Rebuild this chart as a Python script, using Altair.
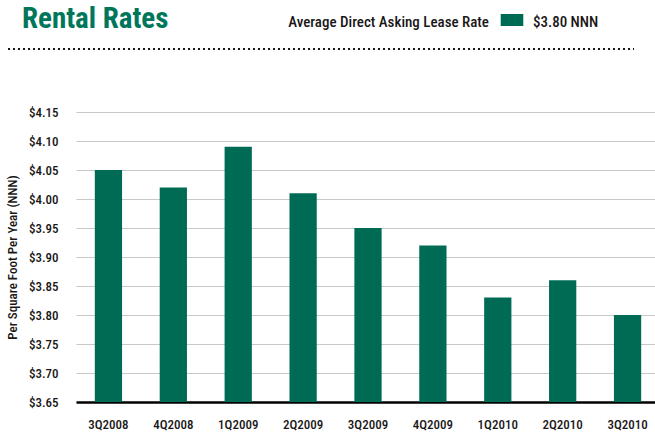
import altair as alt
import pandas as pd

# Quarterly average direct asking lease rate ($ per sq ft per year, NNN)
quarters = ["3Q2008", "4Q2008", "1Q2009", "2Q2009", "3Q2009",
            "4Q2009", "1Q2010", "2Q2010", "3Q2010"]
rates = [4.05, 4.02, 4.09, 4.01, 3.95, 3.92, 3.83, 3.86, 3.80]
y_ticks = [3.65, 3.70, 3.75, 3.80, 3.85, 3.90, 3.95, 4.00, 4.05, 4.10, 4.15]
y_base = y_ticks[0]

title_text = "Rental Rates"
legend_label = "Average Direct Asking Lease Rate"
legend_value = f"${rates[-1]:.2f} NNN"

GREEN = "#006B54"
TITLE_GREEN = "#00765A"
INK = "#1A1718"
FONT = "Liberation Sans Narrow, Roboto Condensed, DejaVu Sans Condensed, Liberation Sans, sans-serif"
TEXT_WEIGHT = 500

bars_df = pd.DataFrame({"quarter": quarters, "rate": rates})

bars = alt.Chart(bars_df).mark_bar(color=GREEN).encode(
    x=alt.X(
        "quarter:N",
        sort=quarters,
        scale=alt.Scale(range=[0, 584], paddingInner=0.58, paddingOuter=0.29),
        axis=alt.Axis(
            title=None, labelAngle=0, ticks=False, domainColor="#000000",
            domainWidth=2.5, labelPadding=16, labelFont=FONT, labelFontSize=13,
            labelFontWeight=TEXT_WEIGHT, labelColor=INK, grid=False,
            labelOverlap=False,
        ),
    ),
    y=alt.Y(
        "rate:Q",
        scale=alt.Scale(domain=[3.65, 4.15], zero=False, nice=False),
        axis=alt.Axis(
            values=y_ticks, format="$.2f", ticks=False, domain=False,
            labelPadding=18, labelFont=FONT, labelFontSize=13,
            labelFontWeight=TEXT_WEIGHT, labelColor=INK,
            gridColor="#C8C8C8", gridWidth=1,
            title="Per Square Foot Per Year (NNN)", titleFont=FONT,
            titleFontSize=13, titleFontWeight=TEXT_WEIGHT, titleColor=INK,
            titleAngle=-90, titleX=-64, titleY=145, titleAlign="center",
            titleBaseline="middle",
        ),
    ),
    y2=alt.datum(y_base),
)

one = pd.DataFrame({"k": [0]})

heading = alt.Chart(pd.DataFrame({"t": [title_text]})).mark_text(
    font=FONT, fontSize=29, fontWeight="bold", color=TITLE_GREEN,
    align="left", baseline="alphabetic",
).encode(text="t:N", x=alt.value(-54), y=alt.value(-84))

legend_text = alt.Chart(pd.DataFrame({"t": [legend_label]})).mark_text(
    font=FONT, fontSize=15, fontWeight=TEXT_WEIGHT, color=INK,
    align="right", baseline="alphabetic",
).encode(text="t:N", x=alt.value(413), y=alt.value(-85))

legend_swatch = alt.Chart(one).mark_rect(color=GREEN).encode(
    x=alt.value(424.7), x2=alt.value(447.3), y=alt.value(-98), y2=alt.value(-86)
)

legend_val = alt.Chart(pd.DataFrame({"t": [legend_value]})).mark_text(
    font=FONT, fontSize=15, fontWeight=TEXT_WEIGHT, color=INK,
    align="left", baseline="alphabetic",
).encode(text="t:N", x=alt.value(457), y=alt.value(-85))

divider = alt.Chart(one).mark_rule(
    color=INK, strokeWidth=2, strokeDash=[2, 3]
).encode(x=alt.value(-68), x2=alt.value(558), y=alt.value(-63))

chart = alt.layer(
    bars, heading, legend_text, legend_swatch, legend_val, divider
).properties(
    width=579, height=290,
    autosize=alt.AutoSizeParams(type="none"),
    padding={"left": 76, "top": 112, "right": 0, "bottom": 31},
    background="white",
).configure_view(stroke=None)

chart.save("out.html", embed_options={"renderer": "svg", "actions": False})
